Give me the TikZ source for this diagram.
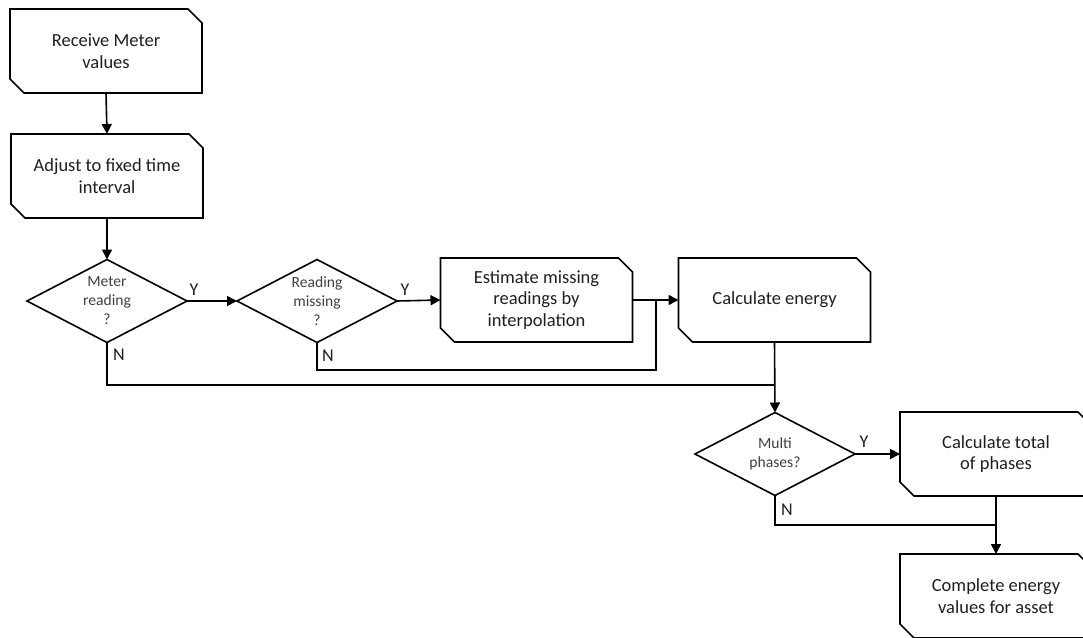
\documentclass[tikz,border=0pt]{standalone}
\usepackage{fontspec}
\setmainfont{Carlito}
\usetikzlibrary{arrows.meta}
\tikzset{
  x=1pt, y=-1pt,
  holder/.style={draw=none, inner sep=0pt, outer sep=0pt, align=center},
  procbox/.style={holder, minimum width=192pt, minimum height=84pt,
    font=\fontsize{18.5}{21.5}\selectfont, text=black!88},
  decbox/.style={holder, minimum width=160pt, minimum height=83pt,
    font=\fontsize{15.6}{19}\selectfont, text=black!75},
  outline/.style={line width=1.6pt, line join=miter},
  flow/.style={line width=1.6pt, -{Triangle[length=10pt,width=10pt]}},
  plain/.style={line width=1.6pt},
  yn/.style={font=\fontsize{18}{20}\selectfont, inner sep=0pt, text=black!88}
}
% process box with the upper right and lower left corners cut off
\newcommand\cutbox[1]{%
  \draw[outline] (#1.north west) -- ([xshift=-14pt]#1.north east)
    -- ([yshift=-14pt]#1.north east) -- (#1.south east)
    -- ([xshift=14pt]#1.south west) -- ([yshift=14pt]#1.south west) -- cycle;}
% decision diamond through the four side midpoints
\newcommand\decision[1]{%
  \draw[outline] (#1.north) -- (#1.east) -- (#1.south) -- (#1.west) -- cycle;}
\begin{document}
\begin{tikzpicture}
\useasboundingbox (0,0) rectangle (1083,637);

\node[procbox] (recv) at (106,51) {Receive Meter\\values};
\node[procbox] (adjust) at (107,176) {Adjust to fixed time\\interval};
\node[decbox] (meter) at (107,301) {Meter\\reading\\?};
\node[decbox] (missing) at (317,301) {Reading\\missing\\?};
\node[procbox] (estimate) at (536.5,300) {Estimate missing\\readings by\\interpolation};
\node[procbox] (energy) at (774.5,300) {Calculate energy};
\node[decbox] (multi) at (775,454) {Multi\\phases?};
\node[procbox] (total) at (996,454) {Calculate total\\of phases};
\node[procbox] (complete) at (996,596) {Complete energy\\values for asset};

\cutbox{recv}
\cutbox{adjust}
\cutbox{estimate}
\cutbox{energy}
\cutbox{total}
\cutbox{complete}
\decision{meter}
\decision{missing}
\decision{multi}

% junction points of the merging lines
\coordinate (joinA) at (656,300);
\coordinate (joinB) at (775,385);
\coordinate (joinC) at (996,525);

\draw[flow] (recv.south) -- (adjust.north);
\draw[flow] (adjust.south) -- (meter.north);
\draw[flow] (meter.east) -- (missing.west);
\draw[flow] (missing.east) -- (estimate.west);
\draw[flow] (estimate.east) -- (energy.west);
\draw[plain] (missing.south) |- (656,370) -- (joinA);
\draw[plain] (meter.south) |- (joinB);
\draw[flow] (energy.south) -- (multi.north);
\draw[flow] (multi.east) -- (total.west);
\draw[plain] (multi.south) |- (joinC);
\draw[flow] (total.south) -- (complete.north);

\node[yn] at (194,290) {Y};
\node[yn] at (405,290) {Y};
\node[yn] at (864,442) {Y};
\node[yn] at (119,355) {N};
\node[yn] at (328,356) {N};
\node[yn] at (787,510) {N};
\end{tikzpicture}
\end{document}
